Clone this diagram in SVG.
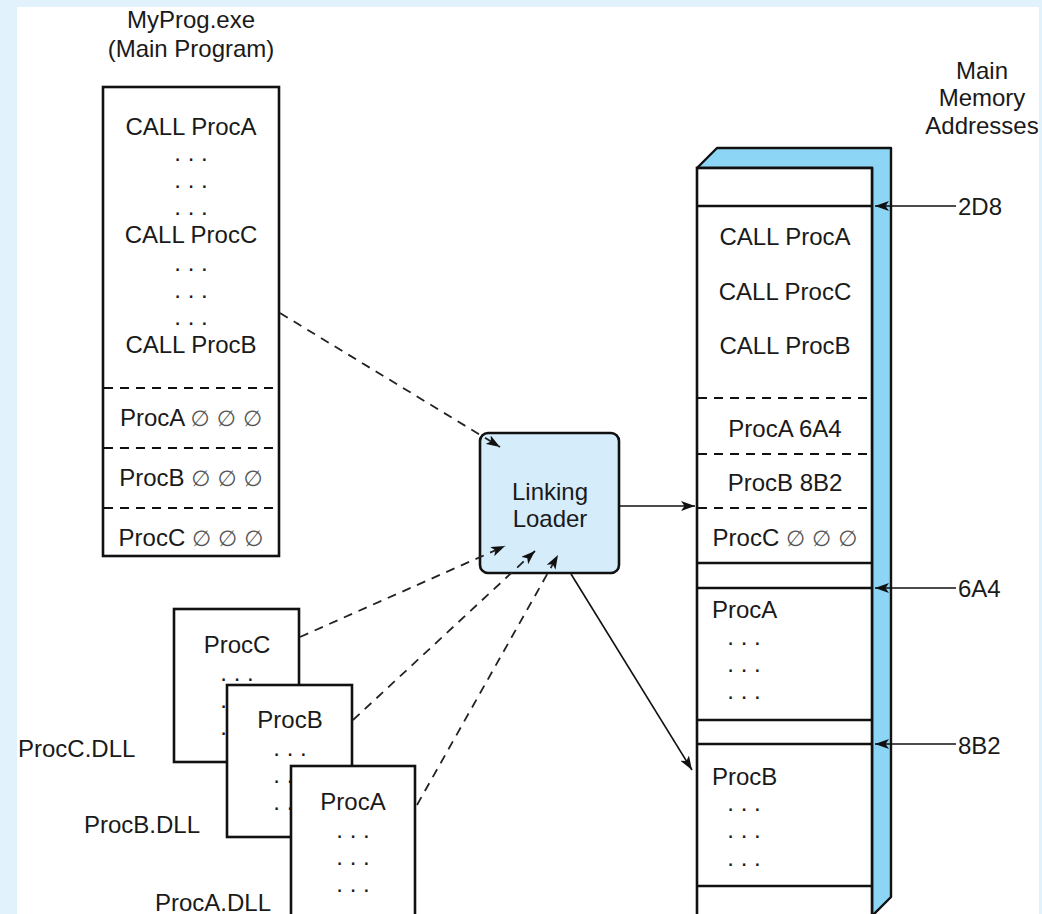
<svg xmlns="http://www.w3.org/2000/svg" width="1042" height="914" viewBox="0 0 1042 914">
<style>
text{font-family:"Liberation Sans",Arial,sans-serif;font-size:24px;fill:#1a1a1a}
.c{text-anchor:middle}
.box{fill:#fff;stroke:#111;stroke-width:2.6}
.sep{stroke:#111;stroke-width:2.4;fill:none}
.dsep{stroke:#111;stroke-width:2.2;stroke-dasharray:9 7;fill:none}
.dash{stroke:#222;stroke-width:1.8;stroke-dasharray:9 7;fill:none}
.solid{stroke:#111;stroke-width:1.6;fill:none}
.phi{font-family:"DejaVu Sans",sans-serif;font-size:22px;fill:#555}
</style>
<defs>
<marker id="ah" viewBox="0 0 14 10" refX="14" refY="5" markerWidth="14" markerHeight="10" orient="auto" markerUnits="userSpaceOnUse">
<path d="M0,0 L14,5 L0,10 L3.5,5 Z" fill="#111"/>
</marker>
</defs>
<rect x="0" y="0" width="1042" height="914" fill="#e1f2fd"/>
<rect x="17" y="7" width="1022" height="907" fill="#fff"/>

<g id="main-program">
<text class="c" x="191" y="28">MyProg.exe</text>
<text class="c" x="191" y="57">(Main Program)</text>
<rect class="box" x="103" y="87" width="176" height="469"/>
<text class="c" x="191" y="135">CALL ProcA</text>
<text class="c" x="191" y="161">. . .</text>
<text class="c" x="191" y="188">. . .</text>
<text class="c" x="191" y="215">. . .</text>
<text class="c" x="191" y="243">CALL ProcC</text>
<text class="c" x="191" y="271">. . .</text>
<text class="c" x="191" y="298">. . .</text>
<text class="c" x="191" y="325">. . .</text>
<text class="c" x="191" y="353">CALL ProcB</text>
<line class="dsep" x1="104" y1="388" x2="278" y2="388"/>
<line class="dsep" x1="104" y1="448" x2="278" y2="448"/>
<line class="dsep" x1="104" y1="508" x2="278" y2="508"/>
<text class="c" x="191" y="426">ProcA <tspan class="phi">∅ ∅ ∅</tspan></text>
<text class="c" x="191" y="486">ProcB <tspan class="phi">∅ ∅ ∅</tspan></text>
<text class="c" x="191" y="546">ProcC <tspan class="phi">∅ ∅ ∅</tspan></text>
</g>

<g id="linking-loader">
<rect x="480" y="433" width="139" height="140" rx="8" fill="#d5ecfa" stroke="#111" stroke-width="2.6"/>
<text class="c" x="550" y="500">Linking</text>
<text class="c" x="550" y="527">Loader</text>
</g>

<g id="memory">
<text class="c" x="982" y="79">Main</text>
<text class="c" x="982" y="106">Memory</text>
<text class="c" x="982" y="134">Addresses</text>
<polygon points="697,168 717,148 891,148 891,897 872,916 872,168" fill="#8dd5f5" stroke="#111" stroke-width="2.4" stroke-linejoin="round"/>
<rect class="box" x="697" y="168" width="175" height="760"/>
<line class="sep" x1="697" y1="206" x2="872" y2="206"/>
<line class="dsep" x1="698" y1="398" x2="871" y2="398"/>
<line class="dsep" x1="698" y1="454" x2="871" y2="454"/>
<line class="dsep" x1="698" y1="508" x2="871" y2="508"/>
<line class="sep" x1="697" y1="563" x2="872" y2="563"/>
<line class="sep" x1="697" y1="588" x2="872" y2="588"/>
<line class="sep" x1="697" y1="720" x2="872" y2="720"/>
<line class="sep" x1="697" y1="744" x2="872" y2="744"/>
<line class="sep" x1="697" y1="886" x2="872" y2="886"/>
<text class="c" x="785" y="245">CALL ProcA</text>
<text class="c" x="785" y="300">CALL ProcC</text>
<text class="c" x="785" y="354">CALL ProcB</text>
<text class="c" x="785" y="437">ProcA 6A4</text>
<text class="c" x="785" y="491">ProcB 8B2</text>
<text class="c" x="785" y="546">ProcC <tspan class="phi">∅ ∅ ∅</tspan></text>
<text x="712" y="618">ProcA</text>
<text class="c" x="744" y="645">. . .</text>
<text class="c" x="744" y="672">. . .</text>
<text class="c" x="744" y="699">. . .</text>
<text x="712" y="785">ProcB</text>
<text class="c" x="744" y="811">. . .</text>
<text class="c" x="744" y="838">. . .</text>
<text class="c" x="744" y="866">. . .</text>
<text x="958" y="215">2D8</text>
<text x="958" y="597">6A4</text>
<text x="958" y="754">8B2</text>
</g>

<g id="dll-c">
<rect class="box" x="174" y="609" width="125" height="153"/>
<text class="c" x="237" y="653">ProcC</text>
<text class="c" x="237" y="681">. . .</text>
<text class="c" x="237" y="708">. . .</text>
<text class="c" x="237" y="735">. . .</text>
<text x="18" y="757">ProcC.DLL</text>
</g>
<g id="dll-b">
<rect class="box" x="227" y="685" width="125" height="152"/>
<text class="c" x="290" y="728">ProcB</text>
<text class="c" x="290" y="756">. . .</text>
<text class="c" x="290" y="783">. . .</text>
<text class="c" x="290" y="810">. . .</text>
<text x="84" y="833">ProcB.DLL</text>
</g>
<g id="dll-a">
<rect class="box" x="291" y="766" width="124" height="160"/>
<text class="c" x="353" y="810">ProcA</text>
<text class="c" x="353" y="838">. . .</text>
<text class="c" x="353" y="865">. . .</text>
<text class="c" x="353" y="892">. . .</text>
<text x="155" y="911">ProcA.DLL</text>
</g>

<g id="connectors">
<line class="dash" x1="280" y1="313" x2="500" y2="447" marker-end="url(#ah)"/>
<line class="dash" x1="300" y1="637" x2="505" y2="546" marker-end="url(#ah)"/>
<line class="dash" x1="353" y1="720" x2="535" y2="551" marker-end="url(#ah)"/>
<line class="dash" x1="417" y1="805" x2="558" y2="555" marker-end="url(#ah)"/>
<line class="solid" x1="619" y1="506" x2="695" y2="506" marker-end="url(#ah)"/>
<line class="solid" x1="571" y1="574" x2="692" y2="770" marker-end="url(#ah)"/>
<line class="solid" x1="956" y1="206" x2="875" y2="206" marker-end="url(#ah)"/>
<line class="solid" x1="956" y1="588" x2="875" y2="588" marker-end="url(#ah)"/>
<line class="solid" x1="956" y1="744" x2="875" y2="744" marker-end="url(#ah)"/>
</g>
</svg>
